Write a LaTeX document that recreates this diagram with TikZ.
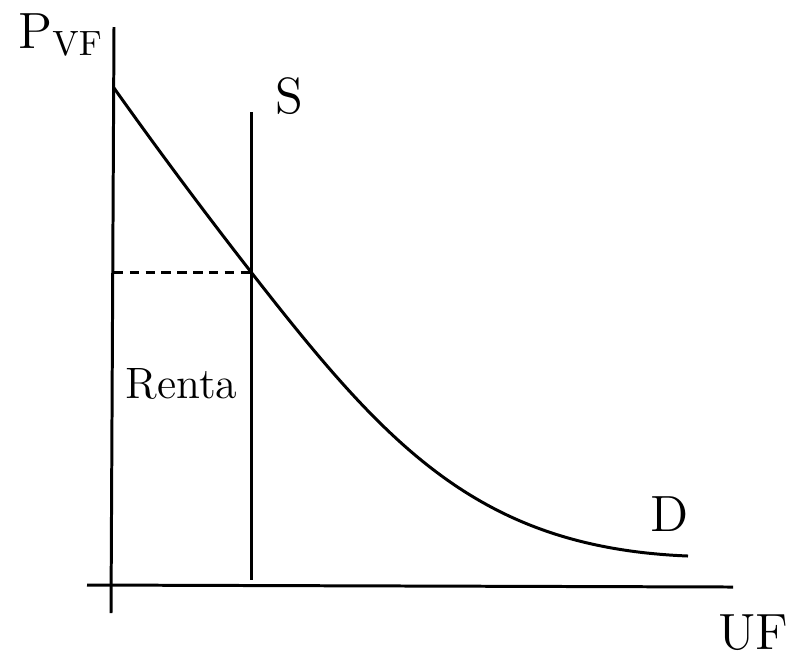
\documentclass[tikz,border=0pt]{standalone}
\usepackage{amsmath}
\usepackage{tikz}

\begin{document}
\begin{tikzpicture}[line width=0.85pt,
  lbl/.style={font=\fontsize{14.5}{17}\selectfont, inner sep=0pt},
  small/.style={font=\fontsize{12.5}{14}\selectfont, inner sep=0pt}]
  \useasboundingbox (0,0) rectangle (7.89,6.54);
  % axes
  \coordinate (ytop) at (1.14,6.27);
  \coordinate (ybot) at (1.11,0.41);
  \coordinate (xl) at (0.87,0.69);
  \coordinate (xr) at (7.33,0.67);
  \draw (ytop) -- (ybot);
  \draw (xl) -- (xr);
  % supply (vertical) and equilibrium
  \coordinate (stop) at (2.51,5.42);
  \coordinate (sbot) at (2.51,0.74);
  \coordinate (eq) at (2.51,3.82);
  \coordinate (peq) at (1.14,3.82);
  \draw (stop) -- (sbot);
  \draw[dash pattern=on 2.7pt off 1.8pt] (peq) -- (eq);
  % demand
  \coordinate (dtop) at (1.14,5.66);
  \coordinate (dend) at (6.88,0.98);
  \draw (dtop) .. controls (1.58,5.04) and (2.05,4.41) .. (eq)
    .. controls (3.86,2.09) and (4.78,1.064) .. (dend);
  % labels
  \node[lbl, anchor=base west] (pvf) at (0.17,6.06) {P$_{\mathrm{VF}}$};
  \node[lbl, anchor=base] (s) at (2.895,5.41) {S};
  \node[lbl, anchor=base] (d) at (6.70,1.23) {D};
  \node[lbl, anchor=base] (uf) at (7.535,0.05) {UF};
  \node[small, anchor=base] (renta) at (1.815,2.56) {Renta};
\end{tikzpicture}
\end{document}
